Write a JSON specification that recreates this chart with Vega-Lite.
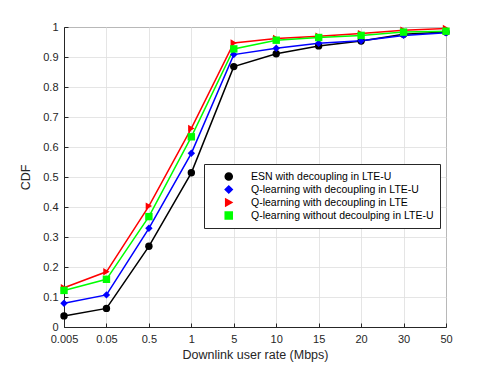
{
  "$schema": "https://vega.github.io/schema/vega-lite/v6.json",
  "width": 382,
  "height": 300,
  "autosize": "none",
  "padding": {"left": 64, "top": 27, "right": 45, "bottom": 41},
  "background": "white",
  "config": {
    "font": "Liberation Sans",
    "view": {"stroke": "#262626", "strokeWidth": 1},
    "axis": {
      "domainColor": "#262626",
      "tickColor": "#262626",
      "labelColor": "#262626",
      "titleColor": "#262626",
      "gridColor": "#dedede",
      "gridWidth": 0.8,
      "labelFontSize": 11,
      "titleFontSize": 12.5,
      "titleFontWeight": "normal",
      "tickSize": -4,
      "labelFont": "Liberation Sans",
      "titleFont": "Liberation Sans"
    },
    "legend": {
      "title": null,
      "orient": "none",
      "legendX": 140,
      "legendY": 137,
      "padding": 6,
      "strokeColor": "#262626",
      "fillColor": "white",
      "labelFontSize": 10.5,
      "labelFont": "Liberation Sans",
      "labelColor": "#000000",
      "symbolOffset": 13.5,
      "labelOffset": 17,
      "clipHeight": 13,
      "rowPadding": 0,
      "labelLimit": 300
    }
  },
  "data": {
    "values": [
      {"rate": "0.005", "series": "ESN with decoupling in LTE-U", "cdf": 0.037},
      {"rate": "0.05", "series": "ESN with decoupling in LTE-U", "cdf": 0.062},
      {"rate": "0.5", "series": "ESN with decoupling in LTE-U", "cdf": 0.269},
      {"rate": "1", "series": "ESN with decoupling in LTE-U", "cdf": 0.514},
      {"rate": "5", "series": "ESN with decoupling in LTE-U", "cdf": 0.868},
      {"rate": "10", "series": "ESN with decoupling in LTE-U", "cdf": 0.911},
      {"rate": "15", "series": "ESN with decoupling in LTE-U", "cdf": 0.937},
      {"rate": "20", "series": "ESN with decoupling in LTE-U", "cdf": 0.953},
      {"rate": "30", "series": "ESN with decoupling in LTE-U", "cdf": 0.976},
      {"rate": "50", "series": "ESN with decoupling in LTE-U", "cdf": 0.983},
      {"rate": "0.005", "series": "Q-learning with decoupling in LTE-U", "cdf": 0.079},
      {"rate": "0.05", "series": "Q-learning with decoupling in LTE-U", "cdf": 0.107},
      {"rate": "0.5", "series": "Q-learning with decoupling in LTE-U", "cdf": 0.329},
      {"rate": "1", "series": "Q-learning with decoupling in LTE-U", "cdf": 0.579},
      {"rate": "5", "series": "Q-learning with decoupling in LTE-U", "cdf": 0.908},
      {"rate": "10", "series": "Q-learning with decoupling in LTE-U", "cdf": 0.929},
      {"rate": "15", "series": "Q-learning with decoupling in LTE-U", "cdf": 0.946},
      {"rate": "20", "series": "Q-learning with decoupling in LTE-U", "cdf": 0.954},
      {"rate": "30", "series": "Q-learning with decoupling in LTE-U", "cdf": 0.972},
      {"rate": "50", "series": "Q-learning with decoupling in LTE-U", "cdf": 0.981},
      {"rate": "0.005", "series": "Q-learning with decoupling in LTE", "cdf": 0.131},
      {"rate": "0.05", "series": "Q-learning with decoupling in LTE", "cdf": 0.184},
      {"rate": "0.5", "series": "Q-learning with decoupling in LTE", "cdf": 0.403},
      {"rate": "1", "series": "Q-learning with decoupling in LTE", "cdf": 0.662},
      {"rate": "5", "series": "Q-learning with decoupling in LTE", "cdf": 0.947},
      {"rate": "10", "series": "Q-learning with decoupling in LTE", "cdf": 0.962},
      {"rate": "15", "series": "Q-learning with decoupling in LTE", "cdf": 0.969},
      {"rate": "20", "series": "Q-learning with decoupling in LTE", "cdf": 0.978},
      {"rate": "30", "series": "Q-learning with decoupling in LTE", "cdf": 0.989},
      {"rate": "50", "series": "Q-learning with decoupling in LTE", "cdf": 0.995},
      {"rate": "0.005", "series": "Q-learning without decoulping in LTE-U", "cdf": 0.122},
      {"rate": "0.05", "series": "Q-learning without decoulping in LTE-U", "cdf": 0.159},
      {"rate": "0.5", "series": "Q-learning without decoulping in LTE-U", "cdf": 0.368},
      {"rate": "1", "series": "Q-learning without decoulping in LTE-U", "cdf": 0.634},
      {"rate": "5", "series": "Q-learning without decoulping in LTE-U", "cdf": 0.927},
      {"rate": "10", "series": "Q-learning without decoulping in LTE-U", "cdf": 0.956},
      {"rate": "15", "series": "Q-learning without decoulping in LTE-U", "cdf": 0.965},
      {"rate": "20", "series": "Q-learning without decoulping in LTE-U", "cdf": 0.972},
      {"rate": "30", "series": "Q-learning without decoulping in LTE-U", "cdf": 0.983},
      {"rate": "50", "series": "Q-learning without decoulping in LTE-U", "cdf": 0.986}
    ]
  },
  "encoding": {
    "x": {
      "field": "rate",
      "type": "ordinal",
      "sort": ["0.005", "0.05", "0.5", "1", "5", "10", "15", "20", "30", "50"],
      "scale": {"type": "point", "padding": 0},
      "axis": {"title": "Downlink user rate (Mbps)", "labelAngle": 0, "grid": true, "labelPadding": 10, "titlePadding": 4}
    },
    "y": {
      "field": "cdf",
      "type": "quantitative",
      "scale": {"domain": [0, 1], "nice": false},
      "axis": {"title": "CDF", "values": [0, 0.1, 0.2, 0.3, 0.4, 0.5, 0.6, 0.7, 0.8, 0.9, 1], "format": "~g", "grid": true, "labelPadding": 10, "titlePadding": 10}
    },
    "color": {
      "field": "series",
      "type": "nominal",
      "scale": {
        "domain": ["ESN with decoupling in LTE-U", "Q-learning with decoupling in LTE-U", "Q-learning with decoupling in LTE", "Q-learning without decoulping in LTE-U"],
        "range": ["#000000", "#0000ff", "#ff0000", "#00ff00"]
      },
      "legend": {
        "encode": {
          "symbols": {
            "update": {
              "size": {"value": 50},
              "opacity": {"value": 1}
            }
          }
        }
      }
    }
  },
  "layer": [
    {
      "mark": {"type": "line", "strokeWidth": 1.5}
    },
    {
      "mark": {"type": "point", "filled": true, "opacity": 1, "size": 55},
      "encoding": {
        "shape": {
          "field": "series",
          "type": "nominal",
          "scale": {
            "domain": ["ESN with decoupling in LTE-U", "Q-learning with decoupling in LTE-U", "Q-learning with decoupling in LTE", "Q-learning without decoulping in LTE-U"],
            "range": ["circle", "diamond", "triangle-right", "square"]
          }
        }
      }
    }
  ]
}
